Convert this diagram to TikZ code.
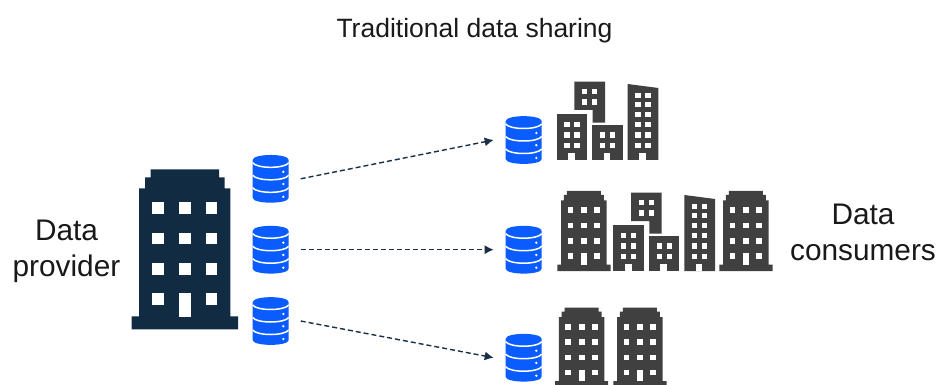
\documentclass[tikz,border=0pt]{standalone}
\usepackage{fontspec}
\setmainfont{Liberation Sans}
\usetikzlibrary{arrows.meta}
\definecolor{navy}{HTML}{112C42}
\definecolor{slate}{HTML}{404040}
\definecolor{dbblue}{HTML}{0A5CFF}
\definecolor{arrowc}{HTML}{1A3045}
\tikzset{
  anchorbox/.style={minimum width=60pt,minimum height=48pt,inner sep=0pt,outer sep=0pt},
  flow/.style={draw=arrowc,line width=1.4pt,dash pattern=on 5pt off 3pt,-{Latex[length=9pt,width=9pt]}},
  label/.style={font=\fontsize{29.8}{36}\selectfont,align=center,text=black!90,inner sep=0pt},
  dbicon/.pic={
    \fill[dbblue] (-18,-18.8) .. controls (-18,-25.5) and (18,-25.5) .. (18,-18.8) -- (18,19)
      .. controls (18,25.5) and (-18,25.5) .. (-18,19) -- cycle;
    \foreach \yy in {-16,-3.5,9}{
      \draw[white,line width=1.5pt] (-18,\yy) .. controls (-14,\yy+6) and (14,\yy+6) .. (18,\yy);
    }
    \foreach \yy in {-7,5.2,18}{
      \fill[white] (12.6,\yy) circle (1.3);
    }
  },
  bigbld/.pic={
    \fill[pic actions] (0,0) -- (0,-13) -- (7.5,-13) -- (7.5,-141) -- (13.3,-141) -- (13.3,-152) -- (19,-152) -- (19,-160)
      -- (87.3,-160) -- (87.3,-152) -- (93,-152) -- (93,-141) -- (98.6,-141) -- (98.6,-13) -- (106.4,-13) -- (106.4,0) -- cycle;
    \foreach \xx in {20.6,47.3,74}{
      \foreach \yy in {-127.3,-96.6,-66,-36}{
        \fill[white] (\xx,\yy) rectangle ++(11.7,11.5);
      }
    }
    \fill[white] (47.3,-36) rectangle ++(11.7,23.4);
  },
  tinywin/.pic={\fill[white] (0,0) rectangle (5.3,5.3);},
  cluster/.pic={
    % building A
    \fill[slate] (0,0) rectangle (30.6,-45.7);
    \fill[white] (11.7,0) rectangle (18.4,-7.3);
    \foreach \xx in {7.7,17.7}{\foreach \yy in {-38,-27.7,-17.3}{\pic at (\xx,\yy) {tinywin};}}
    % building B
    \fill[slate] (17.7,-78.3) -- (48.3,-78.3) -- (48.3,-37.3) -- (36,-37.3) -- (36,-50) -- (17.7,-50) -- cycle;
    \foreach \xx in {25.3,35.3}{\foreach \yy in {-71,-60.7}{\pic at (\xx,\yy) {tinywin};}}
    % building C
    \fill[slate] (35.7,0) rectangle (66,-35.3);
    \fill[white] (47,0) rectangle (53.7,-7.3);
    \foreach \xx in {43.3,53.3}{\foreach \yy in {-27.7,-17.3}{\pic at (\xx,\yy) {tinywin};}}
    % building D
    \fill[slate] (71,0) -- (71,-76) -- (101.7,-72) -- (101.7,0) -- cycle;
    \fill[white] (82.3,0) rectangle (89,-7.3);
    \foreach \xx in {78.7,88.7}{\foreach \yy in {-67.3,-58.3,-48,-38,-27.7,-17.3}{\pic at (\xx,\yy) {tinywin};}}
  }
}
\begin{document}
\begin{tikzpicture}[x=1pt,y=-1pt]
\path[clip] (0,0) rectangle (951,385);
\fill[white] (0,0) rectangle (951,385);
\node[anchorbox] (s1) at (270.7,178.8) {};
\node[anchorbox] (s2) at (270.7,249.7) {};
\node[anchorbox] (s3) at (270.7,321) {};
\node[anchorbox] (d1) at (523.7,140) {};
\node[anchorbox] (d2) at (523.7,249.7) {};
\node[anchorbox] (d3) at (523.7,357.7) {};
\foreach \n in {s1,s2,s3,d1,d2,d3}{\pic at (\n) {dbicon};}
\pic[fill=navy] at (131.7,329.3) {bigbld};
\pic[fill=slate,scale=0.5] at (557.3,271) {bigbld};
\pic[fill=slate,scale=0.5] at (719.3,271) {bigbld};
\pic[fill=slate,scale=0.5] at (555,387.7) {bigbld};
\pic[fill=slate,scale=0.5] at (613.3,387.7) {bigbld};
\pic at (556.7,160) {cluster};
\pic at (613.4,271) {cluster};
\draw[flow] (s1.east) -- (d1.west);
\draw[flow] (s2.east) -- (d2.west);
\draw[flow] (s3.east) -- (d3.west);
\node[label,font=\fontsize{26.5}{34}\selectfont] (title) at (474.5,30.5) {Traditional data sharing};
\node[label] (prov) at (66.5,251) {Data\\provider};
\node[label] (cons) at (863,232) {Data\\consumers};
\end{tikzpicture}
\end{document}
